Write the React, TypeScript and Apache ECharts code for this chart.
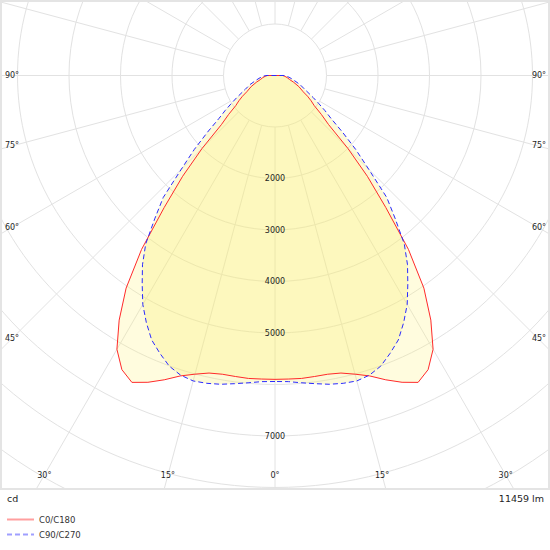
import React, { useEffect, useRef } from "react";
import * as echarts from "echarts";

// gamma angles (0 = straight down), intensities in cd
const GAMMA = [0, 2.5, 5, 7.5, 10, 12.5, 15, 17.5, 20, 22.5, 25, 27.5, 30, 32.5, 35, 37.5, 40, 42.5, 45, 47.5, 50, 52.5, 55, 57.5, 60, 65, 70, 75, 80, 85, 90, 95, 180];
const C0_C180 = [5900, 5900, 5905, 5895, 5890, 5918, 6004, 6117, 6288, 6448, 6575, 6439, 6139, 5632, 5040, 4256, 3349, 2655, 2000, 1412, 1175, 960, 856, 749, 633, 512, 387, 288, 241, 194, 150, 0, 0];
const C90_C270 = [5942, 5950, 5990, 6036, 6088, 6122, 6140, 6100, 6005, 5840, 5666, 5410, 5134, 4800, 4486, 4124, 3634, 3212, 2572, 2126, 1710, 1374, 1178, 999, 857, 640, 518, 395, 315, 248, 180, 0, 0];
const SERIES_NAMES = ["C0/C180", "C90/C270"];
const DEGREE_TICKS = [0, 15, 30, 45, 60, 75, 90];
const CD_TICKS = [2000, 3000, 4000, 5000, 7000];
const UNIT_LABEL = "cd";
const FLUX_LABEL = "11459 lm";

const CX = 275;
const CY = 75.5;
const R_MIN = 1000;
const R_MAX = 10000;
const PX_PER_CD = 0.0515;
const FRAME_H = 490;
const FONT = "DejaVu Sans";

// left half: angle = gamma, right half: angle = 360 - gamma
function loop(values: number[]) {
  const left = GAMMA.map((g, i) => [values[i], g]);
  const right = GAMMA.map((g, i) => [values[i], 360 - g]).reverse();
  return left.concat(right);
}

function label(text: string, x: number, y: number, size = 8, align = "center") {
  return {
    type: "text",
    x,
    y,
    z: 60,
    silent: true,
    style: { text, fill: "#1e1e1e", fontSize: size, fontFamily: FONT, align, verticalAlign: "middle" },
  };
}

function degreeLabels() {
  const out: any[] = [];
  const sideDx = CX - 12;
  const bottomY = 475;
  DEGREE_TICKS.forEach((g) => {
    const rad = (g * Math.PI) / 180;
    const ySide = CY + (sideDx * Math.cos(rad)) / Math.sin(rad);
    const t = g + "°";
    if (g > 0 && ySide < bottomY) {
      out.push(label(t, CX - sideDx, ySide));
      out.push(label(t, CX + sideDx + 1, ySide));
    } else {
      const dx = (bottomY - CY) * Math.tan(rad);
      out.push(label(t, CX - dx, bottomY));
      if (g > 0) out.push(label(t, CX + dx, bottomY));
    }
  });
  return out;
}

const hidden = {
  axisLine: { show: false },
  axisTick: { show: false },
  axisLabel: { show: false },
};

export default function App() {
  const chartRef = useRef<HTMLDivElement>(null);

  useEffect(() => {
    if (!chartRef.current) return;
    const chart = echarts.init(chartRef.current, null, { renderer: "svg" });

    const grid = { color: "#e2e2e2", width: 1 };

    chart.setOption({
      animation: false,
      backgroundColor: "#fff",
      // polar 0 draws the grid (starting at 1000 cd), polar 1 carries the curves
      polar: [
        { center: [CX, CY], radius: [R_MIN * PX_PER_CD, R_MAX * PX_PER_CD] },
        { center: [CX, CY], radius: [0, R_MAX * PX_PER_CD] },
      ],
      angleAxis: [
        {
          polarIndex: 0,
          type: "value",
          min: 0,
          max: 360,
          interval: 15,
          startAngle: 270,
          clockwise: true,
          ...hidden,
          splitLine: { show: true, lineStyle: grid },
        },
        {
          polarIndex: 1,
          type: "value",
          min: 0,
          max: 360,
          interval: 15,
          startAngle: 270,
          clockwise: true,
          ...hidden,
          splitLine: { show: false },
        },
      ],
      radiusAxis: [
        {
          polarIndex: 0,
          type: "value",
          min: R_MIN,
          max: R_MAX,
          interval: 1000,
          ...hidden,
          splitLine: { show: true, lineStyle: grid },
        },
        {
          polarIndex: 1,
          type: "value",
          min: 0,
          max: R_MAX,
          interval: 1000,
          ...hidden,
          splitLine: { show: false },
        },
      ],
      legend: {
        data: SERIES_NAMES,
        orient: "vertical",
        left: 6,
        top: 515,
        padding: 0,
        itemWidth: 27,
        itemHeight: 10,
        itemGap: 6,
        z: 100,
        selectedMode: false,
        itemStyle: { opacity: 0 },
        lineStyle: { width: 2, opacity: 0.45 },
        textStyle: { fontSize: 8.5, fontFamily: FONT, color: "#333" },
      },
      series: [
        {
          name: SERIES_NAMES[0],
          type: "line",
          coordinateSystem: "polar",
          polarIndex: 1,
          data: loop(C0_C180),
          symbol: "none",
          itemStyle: { color: "#ff2a2a" },
          lineStyle: { color: "#ff2a2a", width: 1 },
          areaStyle: { origin: 0, color: "rgba(255,244,121,0.35)" },
        },
        {
          name: SERIES_NAMES[1],
          type: "line",
          coordinateSystem: "polar",
          polarIndex: 1,
          data: loop(C90_C270),
          symbol: "none",
          itemStyle: { color: "#2a2aff" },
          lineStyle: { color: "#2a2aff", width: 1, type: [5, 3] },
          areaStyle: { origin: 0, color: "rgba(248,238,108,0.4)" },
        },
      ],
      graphic: [
        { type: "rect", z: 50, silent: true, shape: { x: 0, y: FRAME_H, width: 550, height: 60 }, style: { fill: "#fff" } },
        { type: "rect", z: 51, silent: true, shape: { x: 1, y: 1, width: 548, height: FRAME_H - 2 }, style: { fill: "none", stroke: "#e4e4e4", lineWidth: 2 } },
        ...CD_TICKS.map((v) => label(String(v), CX, CY + v * PX_PER_CD)),
        ...degreeLabels(),
        label(UNIT_LABEL, 7, 498, 9.5, "left"),
        label(FLUX_LABEL, 544, 498, 9.5, "right"),
      ],
    });

    return () => chart.dispose();
  }, []);

  return <div ref={chartRef} style={{ position: "absolute", left: 0, top: 0, width: 550, height: 550 }} />;
}
